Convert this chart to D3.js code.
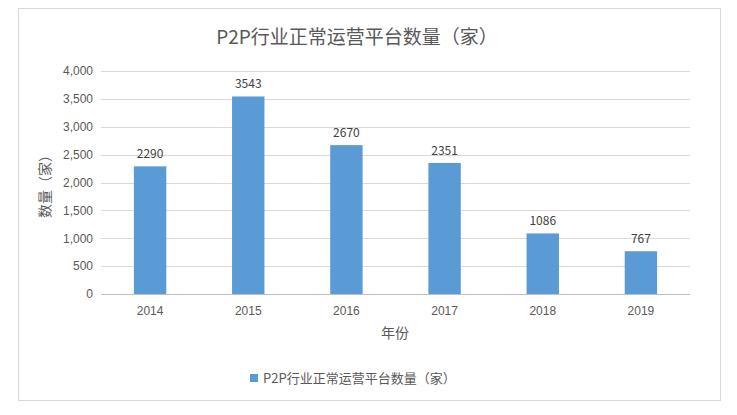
<!DOCTYPE html>
<html><head><meta charset="utf-8">
<script src="https://cdn.jsdelivr.net/npm/d3@7"></script>
<style>body{margin:0;background:#fff;font-family:"Noto Sans CJK SC","Noto Sans",sans-serif;}</style>
</head><body>
<svg id="chart" width="737" height="415"></svg>
<script>
const years = ["2014", "2015", "2016", "2017", "2018", "2019"];
const counts = [2290, 3543, 2670, 2351, 1086, 767];
const yTicks = [0, 500, 1000, 1500, 2000, 2500, 3000, 3500, 4000];

const svg = d3.select("#chart");
const margin = { left: 101, right: 690, top: 71, bottom: 294 };

// chart border
svg.append("rect").attr("x", 18.5).attr("y", 8.5).attr("width", 702).attr("height", 392)
  .attr("fill", "#fff").attr("stroke", "#d9d9d9");

const x = d3.scaleBand().domain(years).range([margin.left, margin.right]).paddingInner(0.67).paddingOuter(0.335);
const y = d3.scaleLinear().domain([0, 4000]).range([margin.bottom, margin.top]);

// gridlines
svg.append("g").selectAll("line").data(yTicks).enter().append("line")
  .attr("x1", margin.left).attr("x2", margin.right)
  .attr("y1", d => Math.round(y(d)) + 0.5).attr("y2", d => Math.round(y(d)) + 0.5)
  .attr("stroke", d => d === 0 ? "#bfbfbf" : "#d9d9d9");

// y axis labels
const yAxis = svg.append("g").attr("transform", `translate(${margin.left - 8},0)`)
  .call(d3.axisLeft(y).tickValues(yTicks).tickSize(0).tickPadding(0));
yAxis.select(".domain").remove();
yAxis.selectAll("text").attr("font-size", 12).attr("fill", "#595959");

// x axis labels
const xAxis = svg.append("g").attr("transform", `translate(0,${margin.bottom + 10})`)
  .call(d3.axisBottom(x).tickSize(0).tickPadding(0));
xAxis.select(".domain").remove();
xAxis.selectAll("text").attr("font-size", 12).attr("fill", "#595959").attr("dy", "0.9em");

// bars
svg.append("g").selectAll("rect").data(years).enter().append("rect")
  .attr("x", d => x(d)).attr("width", x.bandwidth())
  .attr("y", (d, i) => y(counts[i])).attr("height", (d, i) => y(0) - y(counts[i]))
  .attr("fill", "#5b9bd5");

// value labels
svg.append("g").selectAll("text").data(years).enter().append("text")
  .attr("x", d => x(d) + x.bandwidth() / 2).attr("y", (d, i) => y(counts[i]) - 8)
  .attr("text-anchor", "middle").attr("font-size", 12).attr("fill", "#404040")
  .text((d, i) => counts[i]);

// title
svg.append("text").attr("x", 357).attr("y", 44).attr("text-anchor", "middle")
  .attr("font-size", 19).attr("fill", "#595959").text("P2P行业正常运营平台数量（家）");

// axis titles
svg.append("text").attr("transform", "translate(50,183) rotate(-90)").attr("text-anchor", "middle")
  .attr("font-size", 14).attr("fill", "#595959").text("数量（家）");
svg.append("text").attr("x", 395).attr("y", 338).attr("text-anchor", "middle")
  .attr("font-size", 14).attr("fill", "#595959").text("年份");

// legend
svg.append("rect").attr("x", 250).attr("y", 374).attr("width", 8).attr("height", 8).attr("fill", "#5b9bd5");
svg.append("text").attr("x", 263).attr("y", 383).attr("font-size", 13).attr("fill", "#595959")
  .text("P2P行业正常运营平台数量（家）");
</script>
</body></html>
